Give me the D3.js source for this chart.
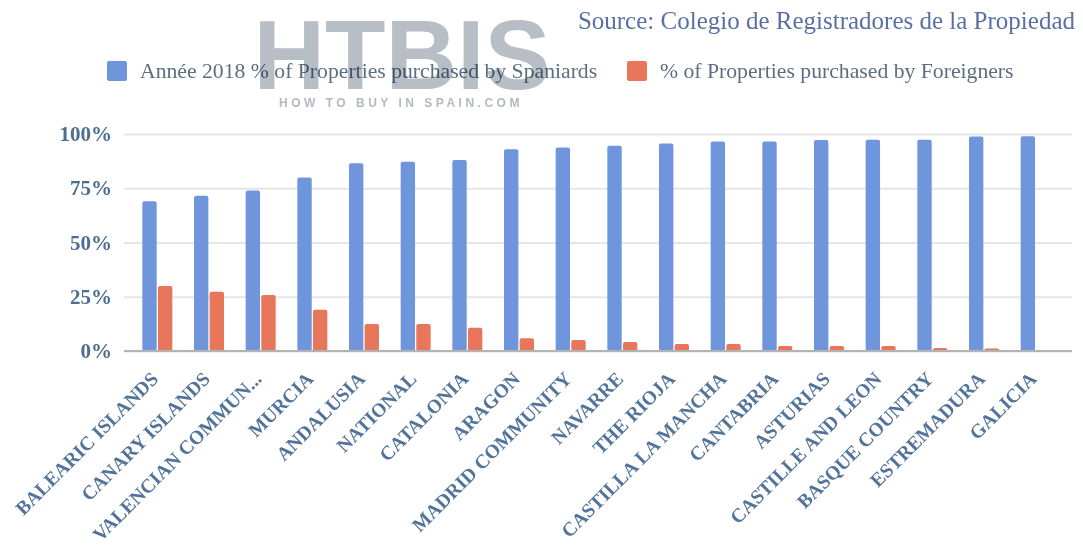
<!DOCTYPE html>
<html>
<head>
<meta charset="utf-8">
<script src="https://cdn.jsdelivr.net/npm/d3@7"></script>
<style>
  body { margin: 0; background: #fff; }
  svg { display: block; }
</style>
</head>
<body>
<svg id="chart" width="1083" height="555"></svg>
<script>
const regions = [
  "BALEARIC ISLANDS", "CANARY ISLANDS", "VALENCIAN COMMUN...", "MURCIA", "ANDALUSIA",
  "NATIONAL", "CATALONIA", "ARAGON", "MADRID COMMUNITY", "NAVARRE", "THE RIOJA",
  "CASTILLA LA MANCHA", "CANTABRIA", "ASTURIAS", "CASTILLE AND LEON",
  "BASQUE COUNTRY", "ESTREMADURA", "GALICIA"
];
const spaniards = [69, 71.5, 74, 80, 86.5, 87.2, 88, 93, 93.8, 94.6, 95.6, 96.5, 96.5, 97.2, 97.3, 97.3, 98.9, 99];
const foreigners = [30, 27.3, 25.8, 19, 12.4, 12.4, 10.7, 5.9, 5.1, 4.1, 3.2, 3.2, 2.3, 2.3, 2.3, 1.4, 1.1, 0.4];
const seriesNames = ["Année 2018 % of Properties purchased by Spaniards", "% of Properties purchased by Foreigners"];
const yTicks = [0, 25, 50, 75, 100];

const colors = ["#6f95dc", "#e7765a"];
const svg = d3.select("#chart");
const margin = { top: 134, bottom: 204, left: 124, right: 11 };
const width = 1083, height = 555;

const x = d3.scaleBand()
  .domain(regions)
  .range([131.5, 1061.5])
  .paddingInner(0)
  .paddingOuter(0);

const inner = d3.scaleBand()
  .domain([0, 1])
  .range([x.bandwidth() / 2 - 15, x.bandwidth() / 2 + 15])
  .paddingInner(0.08);

const y = d3.scaleLinear()
  .domain([0, 100])
  .range([height - margin.bottom, margin.top]);

// gridlines + y labels
const yAxis = svg.append("g")
  .attr("transform", `translate(${margin.left},0)`)
  .call(d3.axisLeft(y).tickValues(yTicks).tickFormat(d => d + "%").tickSize(-(width - margin.left - margin.right)).tickPadding(12));
yAxis.select(".domain").remove();
yAxis.selectAll(".tick line").attr("stroke", "#e6e6e6").attr("stroke-width", 2);
yAxis.selectAll(".tick text")
  .attr("fill", "#4d6e92")
  .style("font-family", "'Liberation Serif', serif")
  .style("font-weight", "bold")
  .style("font-size", "21px");

// bars
const groups = svg.append("g")
  .selectAll("g")
  .data(regions)
  .join("g")
  .attr("transform", d => `translate(${x(d)},0)`);

groups.selectAll("rect")
  .data((d, i) => [spaniards[i], foreigners[i]])
  .join("rect")
  .attr("x", (d, j) => inner(j))
  .attr("width", inner.bandwidth())
  .attr("y", d => y(d))
  .attr("height", d => y(0) - y(d))
  .attr("rx", 2)
  .attr("fill", (d, j) => colors[j]);

// baseline
svg.append("line")
  .attr("x1", margin.left).attr("x2", width - margin.right)
  .attr("y1", y(0)).attr("y2", y(0))
  .attr("stroke", "#b3b3b3").attr("stroke-width", 2);

// x labels
const xAxis = svg.append("g")
  .attr("transform", `translate(0,${y(0)})`)
  .call(d3.axisBottom(x).tickSize(0).tickPadding(0));
xAxis.select(".domain").remove();
xAxis.selectAll(".tick text")
  .attr("text-anchor", "end")
  .attr("transform", "translate(-2,25) rotate(-45)")
  .attr("dy", "0.3em")
  .attr("y", 0)
  .attr("fill", "#52739a")
  .style("font-family", "'Liberation Serif', serif")
  .style("font-weight", "bold")
  .style("font-size", "19.5px");

// legend
const legend = svg.append("g");
const legendX = [107, 627];
seriesNames.forEach((name, i) => {
  legend.append("rect")
    .attr("x", legendX[i]).attr("y", 61)
    .attr("width", 20).attr("height", 20)
    .attr("rx", 2)
    .attr("fill", colors[i]);
  legend.append("text")
    .attr("x", legendX[i] + 33).attr("y", 78)
    .attr("fill", "#5c6e82")
    .style("font-family", "'Liberation Serif', serif")
    .style("font-size", "21.7px")
    .text(name);
});

// source
svg.append("text")
  .attr("x", 1075).attr("y", 29)
  .attr("text-anchor", "end")
  .attr("fill", "#5a70a4")
  .style("font-family", "'Liberation Serif', serif")
  .style("font-size", "25px")
  .text("Source: Colegio de Registradores de la Propiedad");

// watermark
const wm = svg.append("g").style("mix-blend-mode", "multiply");
wm.append("text")
  .attr("x", 402).attr("y", 89)
  .attr("text-anchor", "middle")
  .attr("fill", "#b7bec6")
  .style("font-family", "'Liberation Sans', sans-serif")
  .style("font-weight", "bold")
  .style("font-size", "99px")
  .text("HTBIS");
wm.append("text")
  .attr("x", 401).attr("y", 107)
  .attr("text-anchor", "middle")
  .attr("fill", "#b3b9c0")
  .style("font-family", "'Liberation Sans', sans-serif")
  .style("font-weight", "bold")
  .style("font-size", "12px")
  .style("letter-spacing", "3.5px")
  .text("HOW TO BUY IN SPAIN.COM");
</script>
</body>
</html>
